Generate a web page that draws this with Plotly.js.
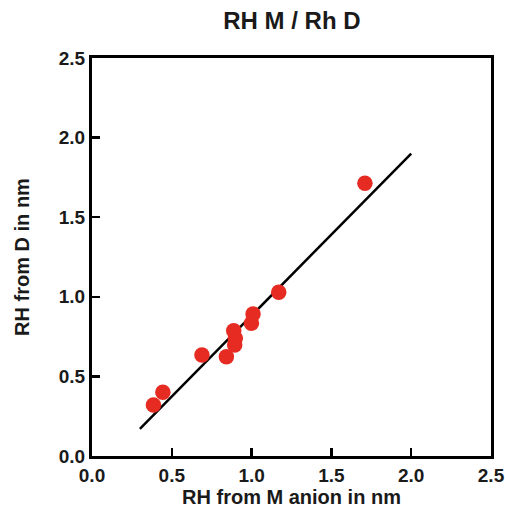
<!DOCTYPE html>
<html>
<head>
<meta charset="utf-8">
<script src="https://cdn.plot.ly/plotly-3.0.1.min.js"></script>
<style>html,body{margin:0;padding:0;background:#fff;}#chart{width:505px;height:514px;}</style>
</head>
<body>
<div id="chart"></div>
<script>
// Data
const rhM = [0.385, 0.444, 0.689, 0.842, 0.894, 0.898, 0.888, 0.999, 1.009, 1.17, 1.71];
const rhD = [0.32, 0.40, 0.634, 0.624, 0.697, 0.74, 0.787, 0.834, 0.892, 1.028, 1.713];
const fitX = [0.3, 2.0];
const fitY = [0.17, 1.90];
const tickVals = [0, 0.5, 1.0, 1.5, 2.0, 2.5];
const tickLabels = ['0.0', '0.5', '1.0', '1.5', '2.0', '2.5'];

const fontFam = 'Liberation Sans, Arial, sans-serif';
const traces = [
  {x: fitX, y: fitY, mode: 'lines', line: {color: '#000', width: 2.5}, hoverinfo: 'skip'},
  {x: rhM, y: rhD, mode: 'markers', marker: {color: '#e62b22', size: 15.5}}
];
const axisCommon = {
  range: [0, 2.5], tickvals: tickVals, ticktext: tickLabels.map(t => '<b>' + t + '</b>'),
  ticks: 'inside', ticklen: 8, tickwidth: 2.5, tickcolor: '#000',
  showline: true, linecolor: '#000', linewidth: 3, mirror: true,
  showgrid: false, zeroline: false,
  tickfont: {family: fontFam, size: 19, color: '#1a1a1a'}
};
const layout = {
  width: 505, height: 514,
  margin: {l: 92, r: 14, t: 58, b: 58},
  showlegend: false,
  paper_bgcolor: '#fff', plot_bgcolor: '#fff',
  title: {text: '<b>RH M / Rh D</b>', x: 0.578, xanchor: 'center', y: 0.96, yanchor: 'middle',
          font: {family: fontFam, size: 24, color: '#1a1a1a'}},
  xaxis: Object.assign({}, axisCommon, {
    title: {text: '<b>RH from M anion in nm</b>', standoff: 6,
            font: {family: fontFam, size: 20, color: '#1a1a1a'}}
  }),
  yaxis: Object.assign({}, axisCommon, {
    ticklabelstandoff: 0,
    title: {text: '<b>RH from D in nm</b>', standoff: 24,
            font: {family: fontFam, size: 20, color: '#1a1a1a'}}
  })
};
Plotly.newPlot('chart', traces, layout, {displayModeBar: false, staticPlot: true});
</script>
</body>
</html>
